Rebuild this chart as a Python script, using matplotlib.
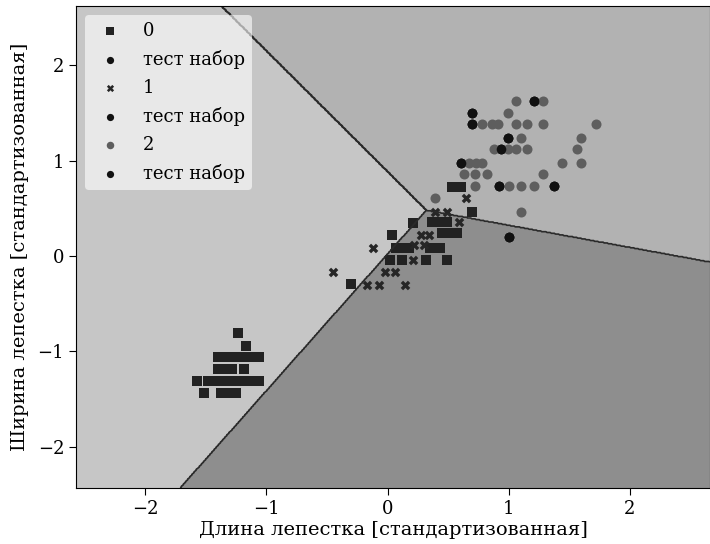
import numpy as np
import matplotlib.pyplot as plt
from matplotlib.colors import ListedColormap

plt.rcParams['font.family'] = ['DejaVu Serif']

# линейные функции решений: score_k = w_k . x + b_k (классы 0, 1, 2)
weights = np.array([[0.0, 0.0], [2.91, -2.03], [4.14, 3.27]])
biases = np.array([0.0, 0.043, -2.895])

# класс 0 (квадраты)
sq_x = [-1.23, -1.17,
        -1.40, -1.32, -1.26, -1.20, -1.14, -1.06,
        -1.40, -1.34, -1.28, -1.18,
        -1.57, -1.48, -1.42, -1.37, -1.31, -1.26, -1.20, -1.14, -1.06,
        -1.51, -1.37, -1.31, -1.25,
        -0.30, 0.04, 0.21, 0.37, 0.43, 0.49, 0.45, 0.51, 0.57,
        0.07, 0.12, 0.18, 0.35, 0.43, 0.02, 0.12, 0.32, 0.49, 0.70, 0.53, 0.61]
sq_y = [-0.81, -0.94,
        -1.06, -1.06, -1.06, -1.06, -1.06, -1.06,
        -1.18, -1.18, -1.18, -1.18,
        -1.31, -1.31, -1.31, -1.31, -1.31, -1.31, -1.31, -1.31, -1.31,
        -1.43, -1.43, -1.43, -1.43,
        -0.29, 0.22, 0.35, 0.36, 0.36, 0.36, 0.24, 0.24, 0.24,
        0.08, 0.08, 0.08, 0.08, 0.08, -0.04, -0.04, -0.04, -0.04, 0.46, 0.72, 0.72]

# класс 1 (крестики)
x1_x = [-0.45, -0.12, -0.17, -0.07, 0.14, -0.02, 0.06, 0.21, 0.28, 0.34,
        0.22, 0.30, 0.59, 0.39, 0.49, 0.65]
x1_y = [-0.17, 0.08, -0.30, -0.30, -0.30, -0.17, -0.17, -0.04, 0.22, 0.22,
        0.12, 0.12, 0.36, 0.46, 0.46, 0.61]

# класс 2 (серые кружки)
c2_x = [1.06, 1.28, 0.99,
        0.78, 0.86, 0.91, 1.06, 1.15, 1.28, 1.72,
        1.10, 1.60,
        0.88, 0.99, 1.06, 1.15, 1.56,
        0.67, 0.73, 0.78, 1.44, 1.60,
        0.63, 0.72, 0.82, 1.28,
        0.72, 1.00, 1.10, 1.21,
        0.39, 1.10]
c2_y = [1.62, 1.62, 1.50,
        1.38, 1.38, 1.38, 1.38, 1.38, 1.38, 1.38,
        1.24, 1.24,
        1.12, 1.12, 1.12, 1.12, 1.12,
        0.98, 0.98, 0.98, 0.98, 0.98,
        0.86, 0.86, 0.86, 0.86,
        0.73, 0.73, 0.73, 0.73,
        0.61, 0.46]

# тестовый набор (черные кружки)
test_x = [1.21, 0.70, 0.70, 0.99, 0.94, 0.61, 0.92, 1.37, 1.00]
test_y = [1.62, 1.50, 1.38, 1.24, 1.12, 0.98, 0.73, 0.73, 0.20]

class_labels = ['0', '1', '2']

fig = plt.figure(figsize=(7.1, 5.44), dpi=100)
ax = fig.add_axes([0.107, 0.103, 0.893, 0.886])

xx, yy = np.meshgrid(np.linspace(-2.57, 2.66, 600), np.linspace(-2.43, 2.62, 600))
pts = np.c_[xx.ravel(), yy.ravel()]
Z = np.argmax(pts @ weights.T + biases, axis=1).reshape(xx.shape)
region_cmap = ListedColormap(['#c6c6c6', '#8e8e8e', '#b2b2b2'])
ax.contourf(xx, yy, Z, levels=[-0.5, 0.5, 1.5, 2.5], cmap=region_cmap)
ax.contour(xx, yy, Z, levels=[0.5, 1.5], colors='#2a2a2a', linewidths=1.2)

ms = 48
ax.scatter(sq_x, sq_y, s=ms, marker='s', c='#222222', linewidths=0, label=class_labels[0])
ax.scatter(test_x, test_y, s=ms, marker='o', c='#111111', linewidths=0, label='тест набор')
ax.scatter(x1_x, x1_y, s=ms, marker='X', c='#262626', linewidths=0, label=class_labels[1])
ax.scatter(test_x, test_y, s=ms, marker='o', c='#111111', linewidths=0, label='тест набор')
ax.scatter(c2_x, c2_y, s=52, marker='o', c='#5e5e5e', linewidths=0, label=class_labels[2])
ax.scatter(test_x, test_y, s=ms, marker='o', c='#111111', linewidths=0, label='тест набор')

ax.set_xlim(-2.57, 2.66)
ax.set_ylim(-2.43, 2.62)
ax.set_xticks([-2, -1, 0, 1, 2])
ax.set_yticks([-2, -1, 0, 1, 2])
ax.tick_params(labelsize=13, length=5)
ax.set_xlabel('Длина лепестка [стандартизованная]', fontsize=14, labelpad=2)
ax.set_ylabel('Ширина лепестка [стандартизованная]', fontsize=14, labelpad=6)

leg = ax.legend(loc='upper left', fontsize=13, markerscale=0.75, labelspacing=0.55,
                framealpha=0.6, edgecolor='none', fancybox=True)
leg.get_frame().set_facecolor('white')

fig.savefig('out.png', dpi=100)
